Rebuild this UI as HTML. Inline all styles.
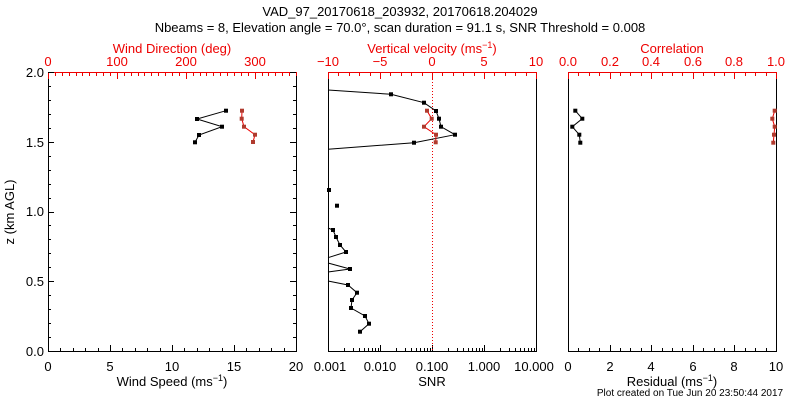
<!DOCTYPE html>
<html><head><meta charset="utf-8"><style>
body{margin:0;background:#fff}
svg{display:block;font-family:"Liberation Sans",sans-serif}
</style></head><body>
<svg id="s" width="800" height="400" xmlns="http://www.w3.org/2000/svg">
<rect width="800" height="400" fill="#fff"/>
<g font-size="13" text-anchor="middle" fill="#000">
<text x="400" y="16">VAD_97_20170618_203932, 20170618.204029</text>
<text x="400" y="32">Nbeams = 8, Elevation angle = 70.0°, scan duration = 91.1 s, SNR Threshold = 0.008</text>
</g>
<g fill="none" stroke="#000" stroke-width="1">
<rect x="48.5" y="72.5" width="248" height="279"/>
<rect x="328.5" y="72.5" width="208" height="279"/>
<rect x="568.5" y="72.5" width="208" height="279"/>
</g>
<g stroke="#e00" stroke-width="1">
<line x1="48" y1="72.5" x2="297" y2="72.5"/>
<line x1="328" y1="72.5" x2="537" y2="72.5"/>
<line x1="568" y1="72.5" x2="777" y2="72.5"/>
</g>
<g id="ticks"></g>
<line x1="432.5" y1="73" x2="432.5" y2="351" stroke="#e00" stroke-dasharray="1,2"/>
<!-- labels -->
<g font-size="13" text-anchor="middle" fill="#e00">
<text x="172" y="53">Wind Direction (deg)</text>
<text x="48" y="66">0</text><text x="117" y="66">100</text><text x="186" y="66">200</text><text x="255" y="66">300</text>
<text x="432" y="53">Vertical velocity (ms<tspan dy="-5" font-size="9">−1</tspan><tspan dy="5">)</tspan></text>
<text x="328" y="66">−10</text><text x="380" y="66">−5</text><text x="432" y="66">0</text><text x="484" y="66">5</text><text x="536" y="66">10</text>
<text x="672" y="53">Correlation</text>
<text x="568" y="66">0.0</text><text x="610" y="66">0.2</text><text x="651" y="66">0.4</text><text x="693" y="66">0.6</text><text x="734" y="66">0.8</text><text x="776" y="66">1.0</text>
</g>
<g font-size="13" text-anchor="middle" fill="#000">
<text x="48" y="371">0</text><text x="110" y="371">5</text><text x="172" y="371">10</text><text x="234" y="371">15</text><text x="296" y="371">20</text>
<text x="172" y="386">Wind Speed (ms<tspan dy="-5" font-size="9">−1</tspan><tspan dy="5">)</tspan></text>
<text x="330" y="371">0.001</text><text x="380" y="371">0.010</text><text x="432" y="371">0.100</text><text x="484" y="371">1.000</text><text x="534" y="371">10.000</text>
<text x="432" y="386">SNR</text>
<text x="568" y="371">0</text><text x="610" y="371">2</text><text x="651" y="371">4</text><text x="693" y="371">6</text><text x="734" y="371">8</text><text x="776" y="371">10</text>
<text x="672" y="386">Residual (ms<tspan dy="-5" font-size="9">−1</tspan><tspan dy="5">)</tspan></text>
<text x="690" y="396" font-size="10">Plot created on Tue Jun 20 23:50:44 2017</text>
</g>
<g font-size="13" text-anchor="end" fill="#000">
<text x="44" y="356">0.0</text><text x="44" y="286">0.5</text><text x="44" y="216">1.0</text><text x="44" y="147">1.5</text><text x="44" y="77">2.0</text>
</g>
<text x="14" y="212" font-size="13" text-anchor="middle" transform="rotate(-90 14 212)">z (km AGL)</text>
<!-- data -->
<g fill="none" stroke="#000" stroke-width="1">
<polyline points="195,142.3 199,135 222,126.7 197,119 226,110.7"/>
<polyline points="328,90 391,94.3 424,102.7 436,111 439,118.7 441,126.7 455,134.7 414,142.7 328,149.3"/>
<polyline points="575.3,110.7 582.3,118.7 572.3,126.7 579.3,134.7 580.3,142.7"/>
<polyline points="328,228 333,230 336,237 340,245 346,252 328,257.7"/>
<polyline points="328,263 350,269 328,272"/>
<polyline points="328,281 348,285 357,292.7 352,300 351,308 365,316 369,323.7 360,331.7"/>
</g>
<g fill="none" stroke="#e00" stroke-width="1">
<polyline points="253,142 255,134.7 244,126.7 241.7,118.7 242,110.7"/>
<polyline points="427,110.7 431.7,118.7 424,126.7 436,134.7 435.7,142.3"/>
<polyline points="774.7,110.7 772.3,118.7 774.7,126.7 774,134.7 773.3,142.7"/>
</g>
<g id="pts"></g>
</svg>
<script>
var T=document.getElementById('ticks'),P=document.getElementById('pts'),ns='http://www.w3.org/2000/svg';
function ln(x1,y1,x2,y2,c){var l=document.createElementNS(ns,'line');l.setAttribute('x1',x1);l.setAttribute('y1',y1);l.setAttribute('x2',x2);l.setAttribute('y2',y2);l.setAttribute('stroke',c);T.appendChild(l);}
function lin(x0,w,n,maj,top,c){for(var i=0;i<=n;i++){var x=Math.round(x0+w*i/n)+0.5,L=(i%maj==0)?6:3;if(top)ln(x,73,x,73+L,c);else ln(x,351,x,351-L,c);}}
lin(48,248,36,10,1,'#e00');lin(48,248,20,5,0,'#000');
lin(328,208,20,5,1,'#e00');
lin(568,208,20,4,1,'#e00');lin(568,208,20,4,0,'#000');
for(var d=0;d<4;d++)for(var k=1;k<=10;k++){var x=Math.round(328+52*(d+Math.log10(k)))+0.5;ln(x,351,x,351-(k==1||k==10?6:3),'#000');}
for(var i=0;i<=20;i++){var y=Math.round(351-279*i/20)+0.5,L=i%5==0?6:3;ln(48,y,48+L,y,'#000');ln(296,y,296-L,y,'#000');}
function pts(a,c){for(var i=0;i<a.length;i+=2){var r=document.createElementNS(ns,'rect');r.setAttribute('x',a[i]-2);r.setAttribute('y',a[i+1]-2);r.setAttribute('width',4);r.setAttribute('height',4);r.setAttribute('fill',c);P.appendChild(r);}}
pts([195,142.3,199,135,222,126.7,197,119,226,110.7,391,94.3,424,102.7,436,111,439,118.7,441,126.7,455,134.7,414,142.7,575.3,110.7,582.3,118.7,572.3,126.7,579.3,134.7,580.3,142.7,329,190,337,205.7,333,230,336,237,340,245,346,252,350,269,348,285,357,292.7,352,300,351,308,365,316,369,323.7,360,331.7],'#000');
pts([253,142,255,134.7,244,126.7,241.7,118.7,242,110.7,427,110.7,431.7,118.7,424,126.7,436,134.7,435.7,142.3,774.7,110.7,772.3,118.7,774.7,126.7,774,134.7,773.3,142.7],'#b03a2e');
</script>
</body></html>
